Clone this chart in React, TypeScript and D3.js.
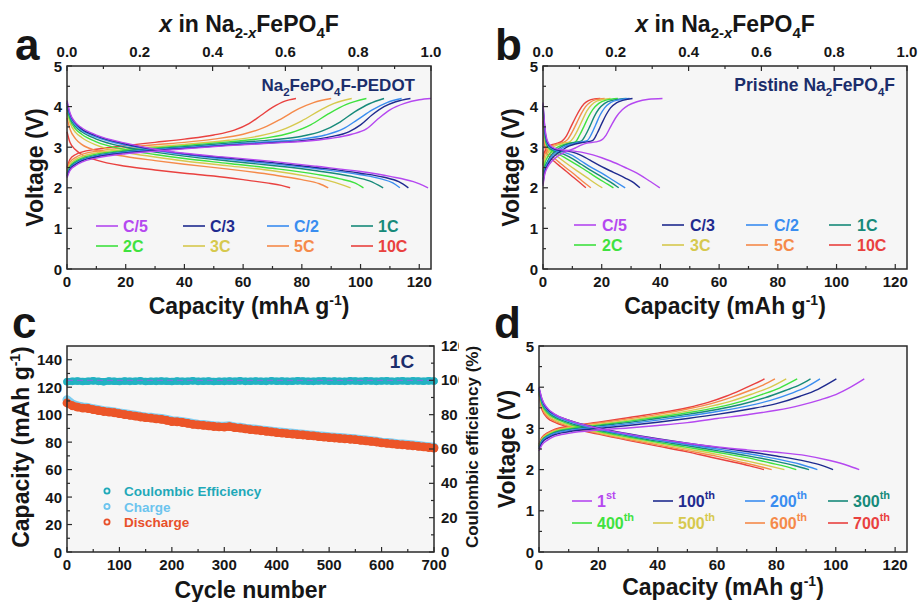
import React from "react";
import * as d3 from "d3";

const W = 919;
const H = 602;
const FONT = "'Liberation Sans', Arial, Helvetica, sans-serif";
const INK = "#161616";
const NAVY = "#1b2d6b";
const PLOT_BG = "#f6f6f6";

// ---- labels / colours ----
const rateLabels = ["C/5", "C/3", "C/2", "1C", "2C", "3C", "5C", "10C"];
const cycleLabels = [["1", "st"], ["100", "th"], ["200", "th"], ["300", "th"], ["400", "th"], ["500", "th"], ["600", "th"], ["700", "th"]];
const curveColors = ["#b548f0", "#1f2b8f", "#3a8df0", "#178a7a", "#3fe23f", "#d6c94e", "#f58a4a", "#e9413f"];

type Pt = [number, number];

// ---- panel a: Na2FePO4F-PEDOT, rate curves (capacity mAh/g, voltage V) ----
const pedotCharge: Pt[][] = [
  [[0, 2.25], [1, 2.42], [3, 2.55], [5, 2.63], [10, 2.73], [20, 2.84], [30, 2.9], [40, 2.96], [55, 3.04], [70, 3.1], [80, 3.14], [90, 3.22], [97, 3.32], [102, 3.45], [106, 3.7], [110, 3.92], [115, 4.08], [120, 4.17], [124, 4.2]],
  [[0, 2.28], [1, 2.45], [3, 2.58], [5, 2.66], [10, 2.76], [20, 2.86], [30, 2.92], [40, 2.97], [55, 3.05], [70, 3.11], [80, 3.16], [90, 3.26], [96, 3.38], [100, 3.55], [104, 3.8], [108, 4.0], [112, 4.12], [117, 4.2]],
  [[0, 2.3], [1, 2.48], [3, 2.6], [5, 2.68], [10, 2.78], [20, 2.88], [30, 2.94], [40, 2.99], [55, 3.07], [70, 3.14], [80, 3.2], [88, 3.3], [94, 3.45], [99, 3.68], [104, 3.92], [109, 4.1], [114, 4.2]],
  [[0, 2.33], [1, 2.5], [3, 2.63], [5, 2.7], [10, 2.8], [20, 2.9], [30, 2.96], [40, 3.01], [55, 3.1], [70, 3.18], [80, 3.27], [87, 3.4], [93, 3.62], [98, 3.87], [103, 4.07], [108, 4.2]],
  [[0, 2.36], [1, 2.53], [3, 2.66], [5, 2.73], [10, 2.83], [20, 2.92], [30, 2.98], [40, 3.04], [55, 3.13], [68, 3.23], [76, 3.35], [83, 3.55], [89, 3.82], [95, 4.05], [102, 4.2]],
  [[0, 2.4], [1, 2.57], [3, 2.7], [5, 2.77], [10, 2.86], [20, 2.95], [30, 3.01], [40, 3.07], [55, 3.17], [65, 3.27], [73, 3.42], [80, 3.65], [86, 3.9], [91, 4.08], [97, 4.2]],
  [[0, 2.45], [1, 2.63], [3, 2.75], [5, 2.82], [10, 2.9], [20, 2.99], [30, 3.06], [40, 3.12], [50, 3.2], [60, 3.32], [67, 3.48], [73, 3.7], [79, 3.95], [84, 4.1], [90, 4.2]],
  [[0, 2.5], [1, 2.7], [3, 2.82], [5, 2.88], [10, 2.95], [20, 3.04], [30, 3.12], [40, 3.2], [50, 3.3], [57, 3.42], [62, 3.58], [66, 3.78], [70, 3.98], [74, 4.13], [78, 4.2]],
];
const pedotDischarge: Pt[][] = [
  [[0, 4.15], [1, 3.85], [3, 3.6], [5, 3.48], [10, 3.3], [20, 3.1], [30, 2.95], [40, 2.85], [55, 2.75], [70, 2.65], [85, 2.53], [100, 2.4], [110, 2.28], [118, 2.15], [123, 2.0]],
  [[0, 4.1], [1, 3.82], [3, 3.58], [5, 3.45], [10, 3.28], [20, 3.08], [30, 2.94], [40, 2.84], [55, 2.73], [70, 2.62], [85, 2.5], [100, 2.36], [108, 2.26], [113, 2.15], [116.3, 2.0]],
  [[0, 4.05], [1, 3.78], [3, 3.54], [5, 3.42], [10, 3.25], [20, 3.05], [30, 2.92], [40, 2.82], [55, 2.7], [70, 2.59], [85, 2.47], [100, 2.32], [107, 2.22], [111, 2.12], [113.4, 2.0]],
  [[0, 4.0], [1, 3.74], [3, 3.5], [5, 3.38], [10, 3.2], [20, 3.0], [30, 2.88], [40, 2.78], [55, 2.66], [70, 2.55], [85, 2.42], [97, 2.28], [103, 2.17], [107.7, 2.0]],
  [[0, 3.95], [1, 3.68], [3, 3.44], [5, 3.32], [10, 3.13], [20, 2.94], [30, 2.82], [40, 2.72], [55, 2.6], [70, 2.48], [85, 2.33], [93, 2.22], [98, 2.12], [101, 2.0]],
  [[0, 3.85], [1, 3.6], [3, 3.36], [5, 3.24], [10, 3.05], [20, 2.87], [30, 2.76], [40, 2.66], [55, 2.54], [70, 2.42], [82, 2.28], [90, 2.16], [96.6, 2.0]],
  [[0, 3.72], [1, 3.45], [3, 3.2], [5, 3.07], [10, 2.92], [20, 2.77], [30, 2.67], [40, 2.58], [55, 2.46], [70, 2.32], [80, 2.2], [86, 2.1], [89, 2.0]],
  [[0, 3.38], [1, 3.12], [3, 2.93], [5, 2.82], [10, 2.68], [20, 2.53], [30, 2.44], [40, 2.36], [50, 2.29], [60, 2.2], [68, 2.12], [73, 2.06], [76, 2.0]],
];

// ---- panel b: pristine Na2FePO4F ----
const pristineCharge: Pt[][] = [
  [[0, 2.05], [0.5, 2.3], [1.5, 2.5], [3, 2.65], [5, 2.78], [8, 2.9], [11, 2.98], [13, 3.05], [15, 3.1], [18, 3.13], [20, 3.18], [21.5, 3.3], [23, 3.5], [25, 3.75], [27, 3.92], [29, 4.03], [32, 4.12], [36, 4.18], [40.7, 4.2]],
  [[0, 2.1], [0.5, 2.35], [1.5, 2.55], [3, 2.72], [5, 2.85], [7, 2.95], [9, 3.03], [11, 3.08], [13, 3.11], [15, 3.13], [17, 3.17], [18.5, 3.35], [20, 3.58], [21.5, 3.8], [23, 3.97], [25, 4.09], [27.5, 4.16], [30.5, 4.2]],
  [[0, 2.15], [0.5, 2.4], [1.5, 2.6], [3, 2.77], [5, 2.9], [7, 3.0], [9, 3.06], [11, 3.1], [13, 3.13], [15, 3.16], [16.5, 3.32], [18, 3.56], [19.5, 3.8], [21, 3.97], [23, 4.1], [26, 4.17], [29.5, 4.2]],
  [[0, 2.2], [0.5, 2.45], [1.5, 2.65], [3, 2.82], [5, 2.95], [7, 3.04], [9, 3.09], [11, 3.12], [13, 3.15], [14.5, 3.3], [16, 3.52], [17.5, 3.76], [19, 3.94], [21, 4.08], [24, 4.16], [28.5, 4.2]],
  [[0, 2.3], [0.5, 2.55], [1.5, 2.75], [3, 2.9], [5, 3.0], [7, 3.06], [9, 3.1], [11, 3.13], [12.5, 3.3], [14, 3.52], [15.5, 3.75], [17, 3.93], [19, 4.08], [21.5, 4.16], [25.5, 4.2]],
  [[0, 2.4], [0.5, 2.65], [1.5, 2.85], [3, 2.98], [5, 3.06], [7, 3.1], [9, 3.13], [10.5, 3.25], [12, 3.45], [13.5, 3.68], [15, 3.9], [16.5, 4.04], [18.5, 4.14], [23, 4.2]],
  [[0, 2.55], [0.5, 2.78], [1.5, 2.93], [3, 3.03], [5, 3.08], [7, 3.12], [8.5, 3.2], [10, 3.38], [11.5, 3.6], [13, 3.82], [14.5, 4.0], [16, 4.1], [18, 4.17], [21, 4.2]],
  [[0, 2.7], [0.5, 2.88], [1.5, 3.0], [3, 3.06], [5, 3.1], [6.5, 3.15], [8, 3.28], [9.5, 3.5], [11, 3.72], [12.5, 3.92], [14, 4.07], [15.5, 4.15], [17.5, 4.19], [19.5, 4.2]],
];
const pristineDischarge: Pt[][] = [
  [[0, 4.1], [0.5, 3.6], [1, 3.3], [2, 3.08], [4, 2.97], [7, 2.93], [10, 2.91], [13, 2.88], [17, 2.81], [20, 2.74], [23, 2.66], [28, 2.5], [32, 2.36], [36, 2.18], [39.8, 2.0]],
  [[0, 4.05], [0.5, 3.55], [1, 3.25], [2, 3.05], [4, 2.95], [7, 2.91], [10, 2.88], [13, 2.8], [16, 2.68], [20, 2.52], [24, 2.38], [28, 2.24], [31, 2.12], [33, 2.0]],
  [[0, 4.0], [0.5, 3.5], [1, 3.2], [2, 3.02], [4, 2.93], [7, 2.88], [10, 2.8], [13, 2.66], [16, 2.52], [20, 2.36], [24, 2.18], [28, 2.0]],
  [[0, 3.95], [0.5, 3.45], [1, 3.15], [2, 3.0], [4, 2.91], [7, 2.83], [10, 2.72], [13, 2.58], [16, 2.44], [20, 2.27], [23, 2.14], [25.8, 2.0]],
  [[0, 3.9], [0.5, 3.4], [1, 3.1], [2, 2.97], [4, 2.88], [7, 2.76], [10, 2.63], [13, 2.5], [16, 2.36], [19, 2.22], [22, 2.09], [24, 2.0]],
  [[0, 3.85], [0.5, 3.3], [1, 3.05], [2, 2.93], [4, 2.82], [6, 2.71], [9, 2.55], [12, 2.4], [15, 2.25], [18, 2.1], [20.2, 2.0]],
  [[0, 3.75], [0.5, 3.2], [1, 2.98], [2, 2.86], [4, 2.72], [6, 2.6], [8, 2.48], [10, 2.37], [12, 2.25], [14, 2.13], [16.3, 2.0]],
  [[0, 3.65], [0.5, 3.1], [1, 2.9], [2, 2.78], [4, 2.64], [6, 2.52], [8, 2.4], [10, 2.28], [12, 2.16], [14.6, 2.0]],
];

// ---- panel d: PEDOT sample at cycle 1 ... 700 ----
const cycledCharge: Pt[][] = [
  [[0, 2.45], [1, 2.6], [3, 2.72], [5, 2.8], [10, 2.88], [20, 2.96], [30, 3.01], [40, 3.07], [50, 3.14], [60, 3.24], [70, 3.33], [80, 3.44], [88, 3.56], [95, 3.7], [100, 3.82], [105, 4.0], [109.6, 4.2]],
  [[0, 2.5], [1, 2.65], [3, 2.77], [5, 2.84], [10, 2.92], [20, 3.0], [30, 3.07], [40, 3.15], [50, 3.24], [60, 3.34], [70, 3.46], [80, 3.6], [88, 3.78], [94, 3.95], [100.2, 4.2]],
  [[0, 2.52], [1, 2.68], [3, 2.8], [5, 2.87], [10, 2.95], [20, 3.03], [30, 3.11], [40, 3.2], [50, 3.3], [60, 3.41], [70, 3.54], [78, 3.68], [85, 3.85], [90, 4.0], [94.7, 4.2]],
  [[0, 2.55], [1, 2.7], [3, 2.82], [5, 2.89], [10, 2.97], [20, 3.06], [30, 3.14], [40, 3.24], [50, 3.34], [60, 3.46], [68, 3.58], [76, 3.74], [83, 3.92], [88, 4.06], [91.5, 4.2]],
  [[0, 2.57], [1, 2.72], [3, 2.84], [5, 2.91], [10, 2.99], [20, 3.08], [30, 3.17], [40, 3.27], [50, 3.38], [60, 3.51], [68, 3.65], [75, 3.82], [81, 3.98], [87, 4.2]],
  [[0, 2.58], [1, 2.74], [3, 2.86], [5, 2.93], [10, 3.01], [20, 3.1], [30, 3.2], [40, 3.3], [50, 3.42], [58, 3.54], [65, 3.67], [72, 3.84], [78, 4.0], [83.3, 4.2]],
  [[0, 2.6], [1, 2.76], [3, 2.88], [5, 2.95], [10, 3.03], [20, 3.13], [30, 3.23], [40, 3.34], [50, 3.47], [58, 3.6], [65, 3.76], [71, 3.92], [75.5, 4.05], [79.5, 4.2]],
  [[0, 2.62], [1, 2.78], [3, 2.9], [5, 2.97], [10, 3.05], [20, 3.15], [30, 3.26], [40, 3.37], [50, 3.5], [57, 3.63], [63, 3.78], [68, 3.93], [72, 4.06], [76, 4.2]],
];
const cycledDischarge: Pt[][] = [
  [[0, 4.0], [1, 3.72], [3, 3.48], [5, 3.36], [10, 3.2], [20, 3.0], [30, 2.86], [40, 2.74], [50, 2.64], [60, 2.55], [70, 2.48], [80, 2.42], [90, 2.34], [98, 2.22], [104, 2.1], [107.9, 2.0]],
  [[0, 3.98], [1, 3.7], [3, 3.46], [5, 3.35], [10, 3.2], [20, 3.01], [30, 2.87], [40, 2.75], [50, 2.64], [60, 2.54], [70, 2.44], [80, 2.33], [90, 2.2], [95, 2.11], [99.1, 2.0]],
  [[0, 3.95], [1, 3.66], [3, 3.43], [5, 3.32], [10, 3.17], [20, 2.98], [30, 2.84], [40, 2.72], [50, 2.61], [60, 2.5], [70, 2.39], [80, 2.26], [88, 2.13], [93.8, 2.0]],
  [[0, 3.93], [1, 3.63], [3, 3.4], [5, 3.29], [10, 3.14], [20, 2.96], [30, 2.82], [40, 2.69], [50, 2.58], [60, 2.46], [70, 2.34], [80, 2.2], [86, 2.1], [91, 2.0]],
  [[0, 3.9], [1, 3.58], [3, 3.36], [5, 3.26], [10, 3.11], [20, 2.93], [30, 2.79], [40, 2.66], [50, 2.54], [60, 2.42], [70, 2.29], [78, 2.16], [83, 2.08], [86.7, 2.0]],
  [[0, 3.88], [1, 3.54], [3, 3.32], [5, 3.22], [10, 3.08], [20, 2.9], [30, 2.76], [40, 2.63], [50, 2.5], [60, 2.37], [68, 2.24], [75, 2.13], [82.7, 2.0]],
  [[0, 3.86], [1, 3.5], [3, 3.28], [5, 3.19], [10, 3.05], [20, 2.88], [30, 2.73], [40, 2.6], [50, 2.46], [60, 2.32], [67, 2.2], [73, 2.1], [78.4, 2.0]],
  [[0, 3.85], [1, 3.45], [3, 3.24], [5, 3.16], [10, 3.03], [20, 2.86], [30, 2.71], [40, 2.57], [50, 2.43], [58, 2.3], [65, 2.19], [71, 2.09], [75.8, 2.0]],
];

// ---- panel c: cycling at 1C, every 10th cycle ----
const cycleNumbers = d3.range(0, 701, 10);
const dischargeCap = [
  108.5, 106.5, 105.5, 104.8, 104.5, 103.6, 103.0, 102.3, 101.9, 101.4,
  100.7, 100.1, 99.5, 99.0, 98.3, 97.8, 97.5, 96.9, 96.6, 95.9,
  95.0, 94.8, 94.3, 93.7, 93.0, 92.5, 92.2, 91.8, 91.4, 91.1,
  91.0, 91.3, 90.5, 90.2, 89.6, 89.1, 88.8, 88.3, 87.9, 87.4,
  86.9, 86.6, 86.2, 85.9, 85.5, 85.2, 84.8, 84.5, 84.0, 83.7,
  83.3, 83.0, 82.7, 82.4, 82.1, 81.8, 81.3, 80.9, 80.5, 80.1,
  79.4, 79.1, 78.7, 78.3, 78.0, 77.7, 77.3, 76.9, 76.5, 76.1,
  75.7,
];
const chargeCap = [
  110.8, 107.8, 106.4, 105.6, 105.2, 104.3, 103.6, 102.9, 102.5, 102.0,
  101.3, 100.7, 100.1, 99.6, 98.9, 98.4, 98.1, 97.5, 97.2, 96.5,
  95.6, 95.4, 94.9, 94.3, 93.6, 93.1, 92.8, 92.4, 92.0, 91.7,
  91.6, 91.9, 91.1, 90.8, 90.2, 89.7, 89.4, 88.9, 88.5, 88.0,
  87.5, 87.2, 86.8, 86.5, 86.1, 85.8, 85.4, 85.1, 84.6, 84.3,
  83.9, 83.6, 83.3, 83.0, 82.7, 82.4, 81.9, 81.5, 81.1, 80.7,
  80.0, 79.7, 79.3, 78.9, 78.6, 78.3, 77.9, 77.5, 77.1, 76.7,
  76.3,
];
const coulombicEff = [
  99.2, 99.4, 99.6, 99.3, 99.5, 99.7, 99.4, 99.2, 99.6, 99.5,
  99.3, 99.6, 99.4, 99.5, 99.7, 99.3, 99.5, 99.4, 99.6, 99.5,
  99.3, 99.6, 99.4, 99.5, 99.7, 99.4, 99.5, 99.6, 99.3, 99.5,
  99.4, 99.6, 99.5, 99.7, 99.4, 99.5, 99.6, 99.5, 99.4, 99.7,
  99.5, 99.6, 99.4, 99.5, 99.7, 99.6, 99.5, 99.4, 99.6, 99.7,
  99.5, 99.6, 99.5, 99.4, 99.7, 99.6, 99.5, 99.7, 99.6, 99.4,
  99.6, 99.7, 99.5, 99.6, 99.8, 99.5, 99.7, 99.6, 99.5, 99.7,
  99.6,
];
const ceGuide = 100;

type Box = { l: number; r: number; t: number; b: number };
type Side = "bottom" | "top" | "left" | "right";

function ticks(side: Side, scale: any, values: number[], len: number, box: Box) {
  return values.map((v, i) => {
    const p = scale(v);
    if (side === "bottom") return <line key={i} x1={p} x2={p} y1={box.b} y2={box.b - len} />;
    if (side === "top") return <line key={i} x1={p} x2={p} y1={box.t} y2={box.t + len} />;
    if (side === "left") return <line key={i} x1={box.l} x2={box.l + len} y1={p} y2={p} />;
    return <line key={i} x1={box.r} x2={box.r - len} y1={p} y2={p} />;
  });
}

function tickLabels(side: Side, scale: any, values: number[], box: Box, fmt: (v: number) => string) {
  return values.map((v, i) => {
    const p = scale(v);
    if (side === "bottom") return <text key={i} x={p} y={box.b + 18} textAnchor="middle">{fmt(v)}</text>;
    if (side === "top") return <text key={i} x={p} y={box.t - 9} textAnchor="middle">{fmt(v)}</text>;
    if (side === "left") return <text key={i} x={box.l - 5} y={p + 5.5} textAnchor="end">{fmt(v)}</text>;
    return <text key={i} x={box.r + 7} y={p + 5} textAnchor="start">{fmt(v)}</text>;
  });
}

const CapTitle = ({ x, y, unit }: { x: number; y: number; unit: string }) => (
  <text x={x} y={y} textAnchor="middle" fontSize={23} fontWeight="bold" fill={INK}>
    {`Capacity (${unit} g`}
    <tspan dy={-9} fontSize={14}>-1</tspan>
    <tspan dy={9}>)</tspan>
  </text>
);

const XTitle = ({ x, y }: { x: number; y: number }) => (
  <text x={x} y={y} textAnchor="middle" fontSize={23} fontWeight="bold" fill={INK}>
    <tspan fontStyle="italic">x</tspan>
    {" in Na"}
    <tspan dy={6} fontSize={15}>2-</tspan>
    <tspan fontSize={15} fontStyle="italic">x</tspan>
    <tspan dy={-6}>FePO</tspan>
    <tspan dy={6} fontSize={15}>4</tspan>
    <tspan dy={-6}>F</tspan>
  </text>
);

function VoltagePanel({ box, charge, discharge, letter, letterX, unit, note, legendCols, legendRows, lineLen, textGap, cycleLegend, topAxis }: any) {
  const x = d3.scaleLinear().domain([0, 124]).range([box.l, box.r]);
  const y = d3.scaleLinear().domain([0, 5]).range([box.b, box.t]);
  const frac = d3.scaleLinear().domain([0, 1]).range([box.l, box.r]);
  const line = d3.line<Pt>().x((d) => x(d[0])).y((d) => y(d[1])).curve(d3.curveMonotoneX);
  const order = [7, 6, 5, 4, 3, 2, 1, 0];
  const cx = (box.l + box.r) / 2;
  const cy = (box.t + box.b) / 2;
  return (
    <g fontFamily={FONT}>
      <rect x={box.l} y={box.t} width={box.r - box.l} height={box.b - box.t} fill={PLOT_BG} />
      {order.map((i) => (
        <g key={i} fill="none" stroke={curveColors[i]} strokeWidth={1.4}>
          <path d={line(charge[i]) || ""} />
          <path d={line(discharge[i]) || ""} />
        </g>
      ))}
      <g stroke="#2a2a2a" strokeWidth={1.2}>
        {ticks("bottom", x, d3.range(0, 121, 20), 5, box)}
        {ticks("bottom", x, d3.range(10, 121, 20), 3, box)}
        {ticks("left", y, d3.range(0, 6, 1), 5, box)}
        {ticks("left", y, d3.range(0.5, 5, 1), 3, box)}
        {topAxis && ticks("top", frac, d3.range(0, 1.01, 0.2), 5, box)}
        {topAxis && ticks("top", frac, d3.range(0.1, 1, 0.2), 3, box)}
      </g>
      <rect x={box.l} y={box.t} width={box.r - box.l} height={box.b - box.t} fill="none" stroke="#2a2a2a" strokeWidth={1.5} />
      <g fontSize={15} fontWeight="bold" fill={INK}>
        {tickLabels("bottom", x, d3.range(0, 121, 20), box, d3.format("d"))}
        {tickLabels("left", y, d3.range(0, 6, 1), box, d3.format("d"))}
        {topAxis && tickLabels("top", frac, d3.range(0, 1.01, 0.2), box, d3.format(".1f"))}
      </g>
      {topAxis && <XTitle x={cx} y={32} />}
      <CapTitle x={cx} y={box.b + (topAxis ? 45 : 43)} unit={unit} />
      <text transform={`translate(${box.l - 24},${cy}) rotate(-90)`} textAnchor="middle" fontSize={23} fontWeight="bold" fill={INK}>
        Voltage (V)
      </text>
      <text x={letterX} y={box.t - 6 - (topAxis ? 0 : 2)} fontSize={44} fontWeight="bold" fill={INK}>{letter}</text>
      {note}
      <g fontSize={16} fontWeight="bold">
        {curveColors.map((c, i) => {
          const lx = legendCols[i % 4];
          const ly = legendRows[Math.floor(i / 4)];
          return (
            <g key={i}>
              <line x1={lx} x2={lx + lineLen} y1={ly} y2={ly} stroke={c} strokeWidth={1.6} />
              {cycleLegend ? (
                <text x={lx + textGap} y={ly + 6} fill={c}>
                  {cycleLabels[i][0]}
                  <tspan dy={-8} fontSize={11}>{cycleLabels[i][1]}</tspan>
                </text>
              ) : (
                <text x={lx + textGap} y={ly + 6} fill={c}>{rateLabels[i]}</text>
              )}
            </g>
          );
        })}
      </g>
    </g>
  );
}

function CyclePanel({ box }: { box: Box }) {
  const x = d3.scaleLinear().domain([0, 700]).range([box.l, box.r]);
  const y = d3.scaleLinear().domain([0, 150]).range([box.b, box.t]);
  const y2 = d3.scaleLinear().domain([0, 120]).range([box.b, box.t]);
  const cx = (box.l + box.r) / 2;
  const band = (vals: number[], sc: any) =>
    d3.line<number>().x((_, i) => x(cycleNumbers[i])).y((v) => sc(v))(vals) || "";
  const legend = [
    { label: "Coulombic Efficiency", color: "#1fa9b9" },
    { label: "Charge", color: "#6cc4ee" },
    { label: "Discharge", color: "#e8502a" },
  ];
  return (
    <g fontFamily={FONT}>
      <clipPath id="clipC">
        <rect x={0} y={300} width={459} height={302} />
      </clipPath>
      <rect x={box.l} y={box.t} width={box.r - box.l} height={box.b - box.t} fill={PLOT_BG} />
      <g fill="none" strokeLinejoin="round" strokeLinecap="round">
        <path d={band(coulombicEff, y2)} stroke="#22b2c2" strokeWidth={7} />
        <path d={band(chargeCap, y)} stroke="#7fcdf0" strokeWidth={9} />
        <path d={band(dischargeCap, y)} stroke="#ec5528" strokeWidth={8} />
      </g>
      <g>
        {cycleNumbers.map((c, i) => (
          <circle key={"ce" + i} cx={x(c)} cy={y2(coulombicEff[i])} r={3.8} fill="#22b2c2" />
        ))}
        {cycleNumbers.map((c, i) => (
          <circle key={"dc" + i} cx={x(c)} cy={y(dischargeCap[i])} r={4.4} fill="#ec5528" />
        ))}
      </g>
      <line x1={box.l} x2={box.r} y1={y2(ceGuide)} y2={y2(ceGuide)} stroke="#7c6fe0" strokeWidth={1.2} strokeDasharray="6,4" />
      <g stroke="#2a2a2a" strokeWidth={1.2}>
        {ticks("bottom", x, d3.range(0, 701, 100), 5, box)}
        {ticks("bottom", x, d3.range(50, 701, 100), 3, box)}
        {ticks("left", y, d3.range(0, 141, 20), 5, box)}
        {ticks("left", y, d3.range(10, 150, 20), 3, box)}
        {ticks("right", y2, d3.range(0, 121, 20), 5, box)}
        {ticks("right", y2, d3.range(10, 120, 20), 3, box)}
      </g>
      <rect x={box.l} y={box.t} width={box.r - box.l} height={box.b - box.t} fill="none" stroke="#2a2a2a" strokeWidth={1.5} />
      <g fontSize={15} fontWeight="bold" fill={INK}>
        {tickLabels("bottom", x, d3.range(0, 701, 100), box, d3.format("d"))}
        {tickLabels("left", y, d3.range(0, 141, 20), box, d3.format("d"))}
        <g clipPath="url(#clipC)">{tickLabels("right", y2, d3.range(0, 121, 20), box, d3.format("d"))}</g>
      </g>
      <text x={cx} y={598} textAnchor="middle" fontSize={23} fontWeight="bold" fill={INK}>Cycle number</text>
      <text transform={`translate(29,447) rotate(-90)`} textAnchor="middle" fontSize={23} fontWeight="bold" fill={INK}>
        {"Capacity (mAh g"}
        <tspan dy={-9} fontSize={14}>-1</tspan>
        <tspan dy={9}>)</tspan>
      </text>
      <text transform={`translate(478,447) rotate(-90)`} textAnchor="middle" fontSize={17} fontWeight="bold" fill={INK}>
        Coulombic efficiency (%)
      </text>
      <text x={12} y={338} fontSize={44} fontWeight="bold" fill={INK}>c</text>
      <text x={402} y={368} textAnchor="middle" fontSize={19} fontWeight="bold" fill={NAVY}>1C</text>
      <g fontSize={13.5} fontWeight="bold">
        {legend.map((d, i) => (
          <g key={i}>
            <circle cx={107} cy={491 + i * 15.5} r={2.6} fill="none" stroke={d.color} strokeWidth={1.8} />
            <text x={124} y={496 + i * 15.5} fill={d.color}>{d.label}</text>
          </g>
        ))}
      </g>
    </g>
  );
}

const Formula = ({ pre, post }: { pre: string; post: string }) => (
  <>
    {pre}Na
    <tspan dy={5} fontSize={11.5}>2</tspan>
    <tspan dy={-5}>FePO</tspan>
    <tspan dy={5} fontSize={11.5}>4</tspan>
    <tspan dy={-5}>{"F" + post}</tspan>
  </>
);

export default function App() {
  const A: Box = { l: 67, r: 431, t: 66, b: 269 };
  const B: Box = { l: 543, r: 907, t: 66, b: 269 };
  const C: Box = { l: 67, r: 434, t: 346, b: 552 };
  const D: Box = { l: 539, r: 907, t: 346, b: 552 };
  return (
    <svg width={W} height={H} viewBox={`0 0 ${W} ${H}`} style={{ position: "absolute", left: 0, top: 0, background: "#fff" }}>
      <rect width={W} height={H} fill="#fff" />
      <VoltagePanel
        box={A} charge={pedotCharge} discharge={pedotDischarge} letter="a" letterX={15} unit="mhA" topAxis
        legendCols={[96, 183, 267, 351]} legendRows={[226, 246]} lineLen={22} textGap={27}
        note={<text x={415} y={91} textAnchor="end" fontSize={17} fontWeight="bold" fill={NAVY}><Formula pre="" post="-PEDOT" /></text>}
      />
      <VoltagePanel
        box={B} charge={pristineCharge} discharge={pristineDischarge} letter="b" letterX={495} unit="mAh" topAxis
        legendCols={[574, 662, 746, 829]} legendRows={[225, 245]} lineLen={22} textGap={28}
        note={<text x={895} y={91} textAnchor="end" fontSize={17.5} fontWeight="bold" fill={NAVY}><Formula pre="Pristine " post="" /></text>}
      />
      <VoltagePanel
        box={D} charge={cycledCharge} discharge={cycledDischarge} letter="d" letterX={494} unit="mAh"
        legendCols={[572, 653, 745, 828]} legendRows={[501, 523]} lineLen={20} textGap={25} cycleLegend
        note={null}
      />
      <CyclePanel box={C} />
    </svg>
  );
}
